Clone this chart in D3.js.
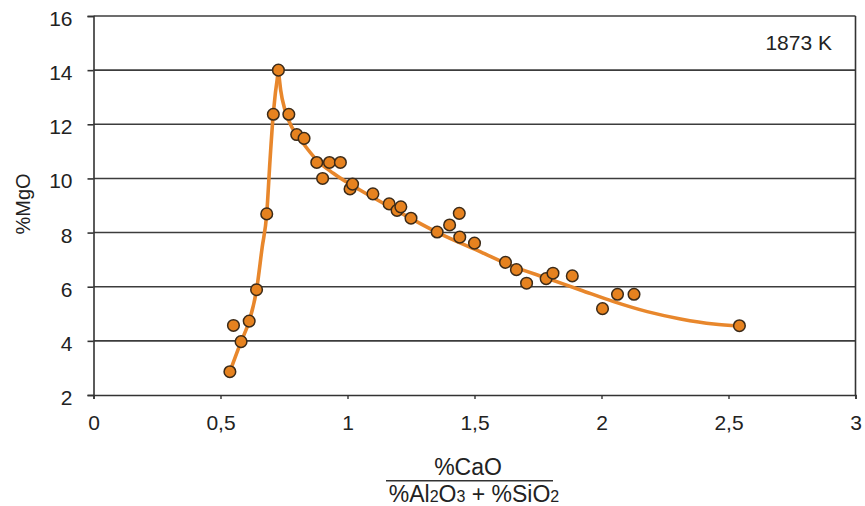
<!DOCTYPE html>
<html>
<head>
<meta charset="utf-8">
<script src="https://cdn.jsdelivr.net/npm/d3@7"></script>
<style>
  html, body { margin: 0; padding: 0; background: #fff; }
  svg { display: block; }
  text { font-family: "Liberation Sans", Arial, sans-serif; fill: #222; }
</style>
</head>
<body>
<svg id="chart" width="865" height="506"></svg>
<script>
// Measured samples: basicity ratio CaO/(Al2O3+SiO2) vs MgO content
const ratioX = [0.537, 0.551, 0.581, 0.613, 0.642, 0.682, 0.708, 0.728, 0.769, 0.800, 0.829,
  0.879, 0.902, 0.929, 0.972, 1.010, 1.020, 1.100, 1.164, 1.195, 1.210, 1.250,
  1.353, 1.402, 1.440, 1.442, 1.500, 1.622, 1.665, 1.705, 1.782, 1.809, 1.885,
  2.004, 2.063, 2.128, 2.543];
const mgoY = [2.86, 4.57, 3.97, 4.73, 5.89, 8.69, 12.37, 14.0, 12.37, 11.62, 11.48,
  10.59, 10.0, 10.59, 10.59, 9.61, 9.79, 9.43, 9.06, 8.82, 8.95, 8.53,
  8.02, 8.28, 8.71, 7.83, 7.61, 6.90, 6.63, 6.13, 6.30, 6.50, 6.40,
  5.19, 5.72, 5.72, 4.56];

// Trend line: rising branch and decaying branch
const riseX = [0.537, 0.581, 0.613, 0.642, 0.664, 0.682, 0.695, 0.708, 0.728];
const riseY = [2.86, 3.97, 4.73, 5.89, 7.45, 8.69, 10.68, 12.41, 14.0];
const fallX = [0.728, 0.737, 0.754, 0.780, 0.826, 0.879, 0.944, 1.049, 1.167, 1.351, 1.524,
  1.655, 1.786, 1.917, 2.048, 2.180, 2.311, 2.442, 2.543];
const fallY = [14.0, 13.26, 12.52, 11.91, 11.29, 10.68, 10.19, 9.57, 8.95, 8.02, 7.29,
  6.74, 6.31, 5.88, 5.45, 5.08, 4.81, 4.62, 4.55];

const xTicks = [0, 0.5, 1, 1.5, 2, 2.5, 3];
const xTickLabels = ["0", "0,5", "1", "1,5", "2", "2,5", "3"];
const yTicks = [2, 4, 6, 8, 10, 12, 14, 16];
const tempLabel = "1873 K";
const yTitle = "%MgO";

const svg = d3.select("#chart");
const plotL = 93.5, plotR = 855.5, plotT = 16, plotB = 395;

const x = d3.scaleLinear().domain([0, 3]).range([plotL, plotR]);
const y = d3.scaleLinear().domain([2, 16]).range([plotB, plotT]);

const axisColor = "#333";
const fontFam = "Liberation Sans, Arial, sans-serif";

// horizontal gridlines
svg.append("g").selectAll("line").data(yTicks.filter(v => v > 2)).join("line")
  .attr("x1", plotL).attr("x2", plotR)
  .attr("y1", d => y(d)).attr("y2", d => y(d))
  .attr("stroke", "#3c3c3c").attr("stroke-width", 1.6);

// right border
svg.append("line").attr("x1", plotR).attr("x2", plotR).attr("y1", plotT).attr("y2", plotB)
  .attr("stroke", axisColor).attr("stroke-width", 1.6);

// y axis
const yAxis = svg.append("g").attr("transform", `translate(${plotL},0)`)
  .call(d3.axisLeft(y).tickValues(yTicks).tickSize(6).tickPadding(15).tickFormat(d3.format("d")));
yAxis.select(".domain").attr("stroke", axisColor).attr("stroke-width", 1.6);
yAxis.selectAll(".tick line").attr("stroke", axisColor).attr("stroke-width", 1.6);
yAxis.selectAll(".tick text").attr("font-size", 21).attr("font-family", fontFam)
  .attr("fill", "#222").attr("dy", "0.45em");

// x axis
const xAxis = svg.append("g").attr("transform", `translate(0,${plotB})`)
  .call(d3.axisBottom(x).tickValues(xTicks).tickSize(4).tickPadding(16)
    .tickFormat((d, i) => xTickLabels[i]));
xAxis.select(".domain").attr("stroke", axisColor).attr("stroke-width", 1.6);
xAxis.selectAll(".tick line").attr("stroke", axisColor).attr("stroke-width", 1.4);
xAxis.selectAll(".tick text").attr("font-size", 21).attr("font-family", fontFam).attr("fill", "#222");

// trend lines
const line = d3.line().x(d => x(d[0])).y(d => y(d[1])).curve(d3.curveMonotoneX);
const orange = "#E8872C";
[[riseX, riseY], [fallX, fallY]].forEach(([xs, ys]) => {
  svg.append("path")
    .attr("d", line(xs.map((v, i) => [v, ys[i]])))
    .attr("fill", "none").attr("stroke", orange)
    .attr("stroke-width", 3.6).attr("stroke-linejoin", "round").attr("stroke-linecap", "round");
});

// sample markers
svg.append("g").selectAll("circle").data(ratioX.map((v, i) => [v, mgoY[i]])).join("circle")
  .attr("cx", d => x(d[0])).attr("cy", d => y(d[1])).attr("r", 5.8)
  .attr("fill", "#E6821F").attr("stroke", "#3b2a18").attr("stroke-width", 1.5);

// temperature label
svg.append("text").attr("x", 832).attr("y", 50).attr("text-anchor", "end")
  .attr("font-size", 21).text(tempLabel);

// y title
svg.append("text").attr("transform", "translate(30,204) rotate(-90)")
  .attr("text-anchor", "middle").attr("font-size", 20).text(yTitle);

// x title as fraction
svg.append("text").attr("x", 468).attr("y", 475).attr("text-anchor", "middle")
  .attr("font-size", 23).text("%CaO");
svg.append("line").attr("x1", 386).attr("x2", 553).attr("y1", 480.7).attr("y2", 480.7)
  .attr("stroke", "#333").attr("stroke-width", 1.4);
const den = svg.append("text").attr("x", 474).attr("y", 502).attr("text-anchor", "middle")
  .attr("font-size", 23);
den.append("tspan").text("%Al");
den.append("tspan").attr("font-size", 16).text("2");
den.append("tspan").text("O");
den.append("tspan").attr("font-size", 16).text("3");
den.append("tspan").text(" + %SiO");
den.append("tspan").attr("font-size", 16).text("2");
</script>
</body>
</html>
